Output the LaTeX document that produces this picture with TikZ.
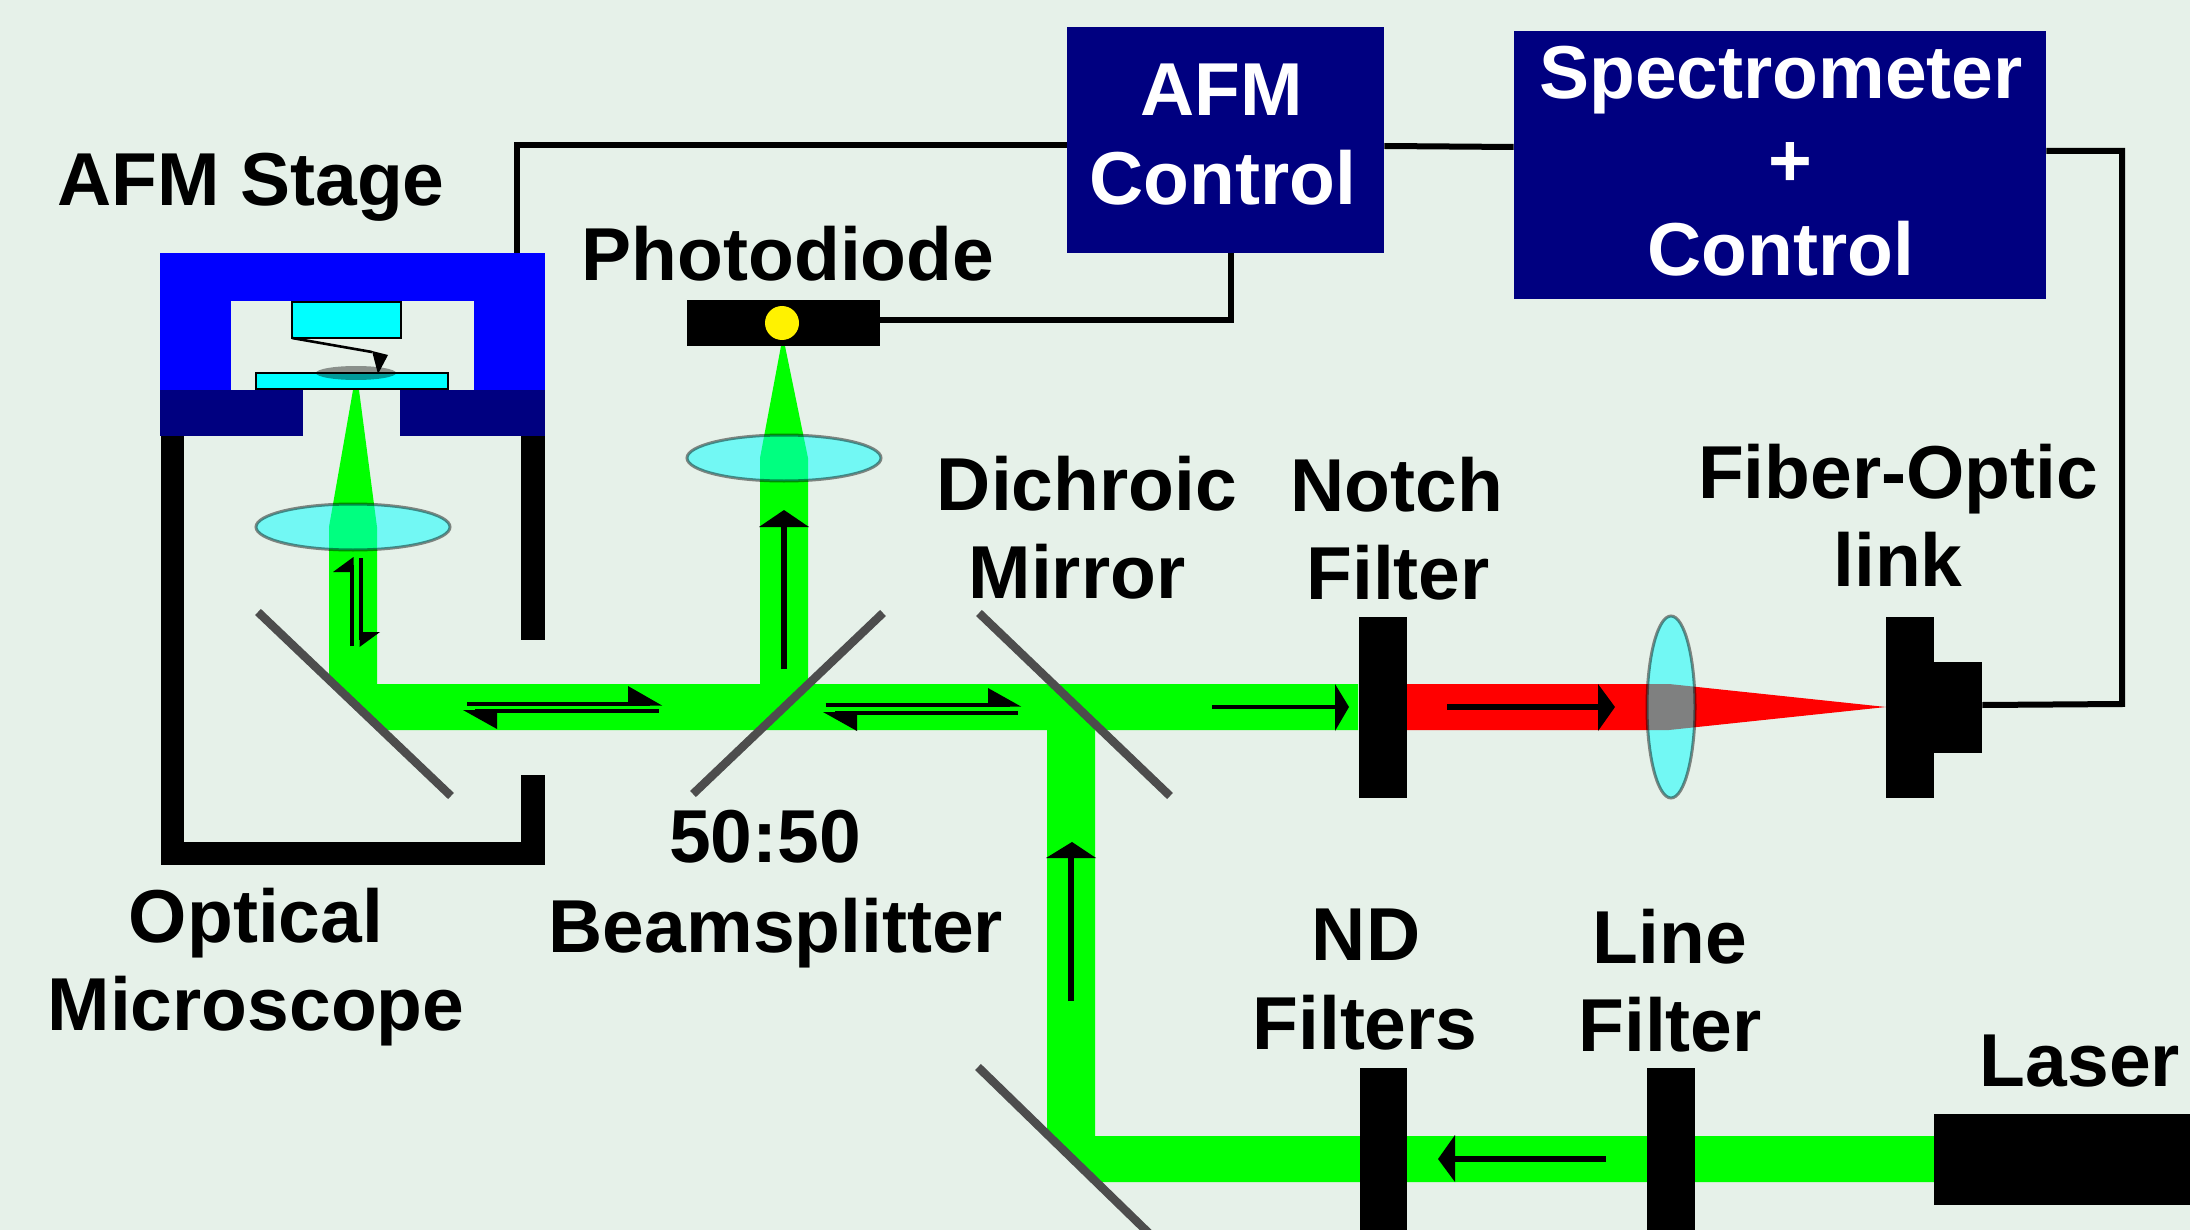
\documentclass[tikz,border=0pt]{standalone}
\usepackage{fontspec}
\setmainfont{Liberation Sans}
\definecolor{bgc}{RGB}{230,241,233}
\definecolor{navyc}{RGB}{0,0,128}
\definecolor{bluec}{RGB}{0,0,255}
\definecolor{greenc}{RGB}{0,255,0}
\definecolor{redc}{RGB}{255,0,0}
\definecolor{cyanc}{RGB}{0,255,255}
\definecolor{mirrorc}{RGB}{77,77,77}
\tikzset{
  beam/.style={fill=greenc,draw=none},
  redbeam/.style={fill=redc,draw=none},
  block/.style={fill=black,draw=none},
  wire/.style={draw=black,line width=3pt,line join=miter},
  mirror/.style={draw=mirrorc,line width=4.2pt},
  lens/.style={fill=cyanc,fill opacity=.5,draw=black,draw opacity=.45,line width=1.5pt},
  shaft/.style={draw=black,line width=1.8pt},
  thick shaft/.style={draw=black,line width=2.6pt},
  head/.style={fill=black,draw=none},
  ctlbox/.style={fill=navyc,draw=none,inner sep=0pt},
  solidbox/.style={fill=black,draw=none,inner sep=0pt},
  stagebox/.style={fill=bluec,draw=none,inner sep=0pt},
  part/.style={fill=cyanc,draw=black,line width=1.2pt},
  lab/.style={font=\fontsize{37.5pt}{44pt}\selectfont\bfseries,text=black,anchor=base,inner sep=0pt},
  wlab/.style={lab,text=white},
}
\begin{document}
\begin{tikzpicture}[x=0.5pt,y=-0.5pt]
\clip (0,0) rectangle (2190,1230);
\fill[bgc] (0,0) rectangle (2190,1230);

% beams
\fill[beam] (353,390) -- (359,390) -- (377,527) -- (377,684) -- (1358,684) -- (1358,730) -- (1095,730)
  -- (1095,1136) -- (1934,1136) -- (1934,1182) -- (1099,1182) -- (1047,1134) -- (1047,730)
  -- (382,730) -- (329,680) -- (329,527) -- cycle;
\fill[beam] (760,700) -- (760,458) -- (781,346) -- (785,346) -- (808,458) -- (808,700) -- cycle;
\fill[redbeam] (1407,684) -- (1669,684) -- (1886,707) -- (1669,730) -- (1407,730) -- cycle;

% microscope body
\fill[block] (161,436) rectangle (184,865);
\fill[block] (161,842) rectangle (545,865);
\fill[block] (521,436) rectangle (545,640);
\fill[block] (521,775) rectangle (545,865);

% stage
\node[stagebox,minimum width=192.5pt,minimum height=24pt] (stagetop) at (352.5,277) {};
\fill[bluec] (160,300) rectangle (231,391);
\fill[bluec] (474,300) rectangle (545,391);
\fill[navyc] (160,390) rectangle (303,436);
\fill[navyc] (400,390) rectangle (545,436);
\path[part] (292,302) rectangle (401,338);
\path[part] (256,373) rectangle (448,389);
\draw[draw=black,line width=1.3pt] (292,338) -- (372,352);
\fill[head] (372,351) -- (388,355) -- (378,374) -- cycle;
\fill[black,fill opacity=.4] (356,373) ellipse [x radius=40,y radius=7];

% mirrors
\draw[mirror] (258,612) -- (451,796);
\draw[mirror] (693,794) -- (883,613);
\draw[mirror] (979,613) -- (1170,796);
\draw[mirror] (978,1067) -- (1160,1244);

% filters
\fill[block] (1358.5,617) rectangle (1407,798);
\fill[block] (1360,1068) rectangle (1407,1230);
\fill[block] (1647,1068) rectangle (1695,1230);
\fill[block] (1934,1114) rectangle (2190,1205);
\fill[block] (1886,617) rectangle (1934,798);
\node[solidbox,minimum width=24pt,minimum height=45.5pt] (nub) at (1958,707.5) {};

% lenses
\path[lens] (353,527) ellipse [x radius=97,y radius=23];
\path[lens] (784,458) ellipse [x radius=97,y radius=23];
\path[lens] (1671,707) ellipse [x radius=24,y radius=91];

% photodiode
\node[solidbox,minimum width=96.5pt,minimum height=23pt] (pd) at (783.5,323) {};
\fill[yellow] (782,323) circle [radius=17];

% control boxes
\node[ctlbox,minimum width=158.5pt,minimum height=113pt] (afm) at (1225.5,140) {};
\node[ctlbox,minimum width=266pt,minimum height=134pt] (spec) at (1780,165) {};

% wires
\draw[wire] (stagetop.north -| 517,0) |- (afm.west |- 0,145);
\draw[wire] (pd.east |- 0,320) -- (1231,320) -- (afm.south -| 1231,0);
\draw[wire] (afm.east |- 0,146) -- (spec.west |- 0,147);
\draw[wire] (spec.east |- 0,151) -- (2122,151) -- (2122,704) -- (nub.east |- 0,705);

% arrows along the beams
\draw[shaft] (352,646) -- (352,565);
\fill[head] (353.5,557) -- (333,572) -- (353.5,572) -- cycle;
\draw[shaft] (361,558) -- (361,640);
\fill[head] (359.5,647) -- (380,632) -- (359.5,632) -- cycle;
\draw[thick shaft] (784,669) -- (784,520);
\fill[head] (784,510) -- (759,527) -- (809,527) -- cycle;
\draw[thick shaft] (1071,1001) -- (1071,850);
\fill[head] (1072,842) -- (1046,858) -- (1096,858) -- cycle;

\draw[shaft] (467,704) -- (650,704);
\fill[head] (662,705.5) -- (628,686) -- (628,705.5) -- cycle;
\draw[shaft] (475,711) -- (659,711);
\fill[head] (463,710) -- (497,729) -- (497,710) -- cycle;
\draw[shaft] (825.5,705) -- (1010,705);
\fill[head] (1021,706.5) -- (988,688) -- (988,706.5) -- cycle;
\draw[shaft] (835,713) -- (1018,713);
\fill[head] (823,712) -- (857,731) -- (857,712) -- cycle;

\draw[shaft] (1212,707) -- (1340,707);
\fill[head] (1349,707) -- (1335,684) -- (1335,731) -- cycle;
\draw[thick shaft] (1447,707) -- (1600,707);
\fill[head] (1615,707) -- (1598,684) -- (1598,731) -- cycle;
\draw[thick shaft] (1606,1159) -- (1450,1159);
\fill[head] (1438,1159) -- (1455,1135) -- (1455,1182) -- cycle;

% labels
\node[lab] (t1) at (251,206) {AFM Stage};
\node[lab] (t2) at (788,281) {Photodiode};
\node[wlab] (t3) at (1222,116) {AFM};
\node[wlab] (t4) at (1223,205) {Control};
\node[wlab] (t5) at (1781,99) {Spectrometer};
\node[wlab] (t6) at (1790,187) {+};
\node[wlab] (t7) at (1781,276) {Control};
\node[lab] (t8) at (1087,510) {Dichroic};
\node[lab] (t9) at (1077,598) {Mirror};
\node[lab] (t10) at (1397,511) {Notch};
\node[lab] (t11) at (1398,599) {Filter};
\node[lab] (t12) at (1898,498) {Fiber-Optic};
\node[lab] (t13) at (1898,586) {link};
\node[lab] (t14) at (765,862) {50:50};
\node[lab] (t15) at (776,952) {Beamsplitter};
\node[lab] (t16) at (256,942) {Optical};
\node[lab] (t17) at (256,1030) {Microscope};
\node[lab] (t18) at (1366,960) {ND};
\node[lab] (t19) at (1365,1049) {Filters};
\node[lab] (t20) at (1670,963) {Line};
\node[lab] (t21) at (1670,1051) {Filter};
\node[lab] (t22) at (2080,1086) {Laser};
\end{tikzpicture}
\end{document}
